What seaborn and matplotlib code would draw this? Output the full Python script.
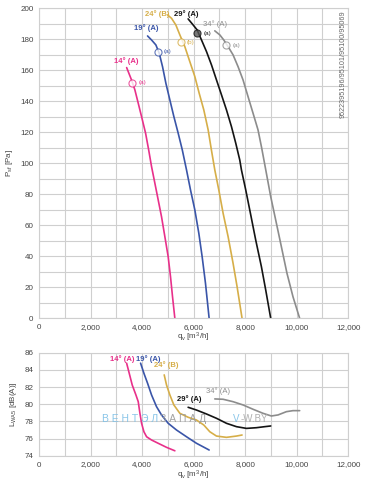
import pandas as pd
import matplotlib.pyplot as plt
import seaborn as sns
from matplotlib.ticker import MultipleLocator, FuncFormatter

# Curves: blade angle settings
labels = ['14° (A)', '19° (A)', '24° (B)', '29° (A)', '34° (A)']
colors = ['#e8308a', '#3a55a8', '#d6ae48', '#141414', '#8c8c8c']

# Pressure curves (q_v in m3/h, P_sf in Pa)
p_q = [
    [3400, 3590, 3720, 3850, 3980, 4135, 4255, 4367, 4496, 4625, 4754, 4884, 5012, 5103, 5181, 5271],
    [4212, 4367, 4535, 4664, 4793, 4923, 5078, 5233, 5400, 5560, 5724, 5879, 6047, 6202, 6331, 6460, 6602],
    [4987, 5142, 5310, 5465, 5659, 5853, 6047, 6215, 6395, 6564, 6690, 6822, 6977, 7145, 7339, 7531, 7687, 7880],
    [5787, 5981, 6136, 6306, 6500, 6694, 6888, 7082, 7275, 7469, 7636, 7791, 7856, 8023, 8205, 8410, 8631, 8798, 8992],
    [6822, 7016, 7171, 7339, 7531, 7725, 7919, 8112, 8306, 8500, 8640, 8825, 8992, 9186, 9406, 9624, 9857, 10116],
]
p_val = [
    [161.7, 153.7, 147.3, 138.7, 130.0, 119.4, 108.6, 97.8, 87.1, 76.3, 65.5, 52.6, 39.7, 26.8, 13.9, 0],
    [182.1, 179.5, 176.3, 171.0, 162.3, 151.6, 140.8, 130.1, 119.4, 108.6, 95.7, 82.8, 69.9, 54.8, 39.7, 22.6, 0],
    [195.7, 193.5, 189.2, 182.8, 175.2, 165.5, 155.9, 145.2, 134.4, 121.5, 108.6, 95.7, 82.8, 67.7, 52.6, 35.5, 20.4, 0],
    [193.1, 189.2, 186.0, 179.5, 172.0, 163.4, 153.7, 144.1, 134.4, 123.6, 112.9, 102.1, 95.7, 82.8, 67.7, 50.5, 33.3, 18.3, 0],
    [185.4, 182.8, 179.5, 175.2, 169.9, 162.3, 153.7, 143.0, 132.3, 121.5, 110.0, 93.5, 78.5, 63.4, 46.2, 29.0, 13.9, 0],
]

# Sound power curves (q_v, L_WA5 in dB(A))
s_q = [
    [3399, 3500, 3616, 3760, 3850, 3915, 3980, 4070, 4174, 4367, 4625, 4948, 5271],
    [3941, 4070, 4212, 4367, 4560, 4754, 5013, 5336, 5723, 6111, 6602],
    [4858, 4948, 5078, 5233, 5465, 5788, 6111, 6395, 6628, 6887, 7275, 7663, 7880],
    [5787, 6111, 6500, 6888, 7275, 7663, 8050, 8437, 8760, 8992],
    [6822, 7145, 7531, 7919, 8306, 8694, 9018, 9276, 9600, 9857, 10116],
]
s_val = [
    [84.77, 83.6, 82.24, 81.08, 80.3, 78.95, 77.79, 76.81, 76.23, 75.85, 75.47, 75.0, 74.6],
    [84.77, 83.6, 82.44, 81.08, 79.72, 78.76, 77.79, 77.01, 76.23, 75.47, 74.69],
    [83.41, 82.24, 81.08, 79.92, 78.95, 78.49, 78.17, 77.59, 76.81, 76.31, 76.16, 76.31, 76.43],
    [79.65, 79.33, 78.87, 78.37, 77.79, 77.4, 77.2, 77.28, 77.4, 77.48],
    [80.62, 80.58, 80.3, 79.92, 79.42, 78.95, 78.64, 78.76, 79.14, 79.26, 79.26],
]

# Operating point markers (q_v, P_sf, tag)
mark_q = [3620, 4600, 5500, 6150, 7270]
mark_p = [152, 172, 178, 184, 176]
mark_tag = ['(a)', '(a)', '(b)', '(a)', '(a)']

# Curve label positions
p_lab_q = [3370, 4150, 4570, 5720, 6820]
p_lab_v = [166, 187, 196, 196, 190]
s_lab_q = [3240, 4220, 4950, 5840, 6930]
s_lab_v = [85.2, 85.2, 84.5, 80.6, 81.5]


def to_frame(qs, vs):
    rows = []
    for lab, q, v in zip(labels, qs, vs):
        for a, b in zip(q, v):
            rows.append({'curve': lab, 'q': a, 'val': b})
    return pd.DataFrame(rows)


dfp = to_frame(p_q, p_val)
dfs = to_frame(s_q, s_val)

sns.set_style('white')
plt.rcParams['font.family'] = ['Liberation Sans', 'DejaVu Sans']
plt.rcParams['mathtext.fontset'] = 'custom'
plt.rcParams['mathtext.rm'] = 'Liberation Sans'
plt.rcParams['mathtext.it'] = 'Liberation Sans'
pal = dict(zip(labels, colors))
grid_c = '#cfcfcf'
tick_c = '#444444'

fig = plt.figure(figsize=(3.72, 4.83), dpi=100)
ax1 = fig.add_axes([0.105, 0.341, 0.831, 0.642])
ax2 = fig.add_axes([0.105, 0.056, 0.831, 0.214])

for ax, df in ((ax1, dfp), (ax2, dfs)):
    sns.lineplot(data=df, x='q', y='val', hue='curve', palette=pal, sort=False,
                 estimator=None, legend=False, linewidth=1.2, ax=ax)

thousands = FuncFormatter(lambda v, p: f'{int(v):,}')
for ax in (ax1, ax2):
    ax.set_xlim(0, 12000)
    ax.xaxis.set_major_locator(MultipleLocator(2000))
    ax.xaxis.set_minor_locator(MultipleLocator(1000))
    ax.xaxis.set_major_formatter(thousands)
    ax.grid(True, which='both', color=grid_c, linewidth=0.8)
    ax.set_axisbelow(True)
    for s in ax.spines.values():
        s.set_color(grid_c)
        s.set_linewidth(0.8)
    ax.tick_params(which='both', length=0, labelsize=5.8, colors=tick_c, pad=4)
    ax.set_xlabel(r'q$_v$ [m$^3$/h]', fontsize=5.8, color=tick_c, labelpad=0)

ax1.set_ylim(0, 200)
ax1.yaxis.set_major_locator(MultipleLocator(20))
ax1.yaxis.set_minor_locator(MultipleLocator(10))
ax1.set_ylabel(r'P$_{sf}$ [Pa]', fontsize=5.8, color=tick_c, labelpad=4)

ax2.set_ylim(74, 86)
ax2.yaxis.set_major_locator(MultipleLocator(2))
ax2.set_ylabel(r'L$_{WA5}$ [dB(A)]', fontsize=5.8, color=tick_c, labelpad=4)

for ax, xs, ys in ((ax1, p_lab_q, p_lab_v), (ax2, s_lab_q, s_lab_v)):
    for lab, c, x, y in zip(labels, colors, xs, ys):
        ax.text(x, y, lab, color=c, fontsize=5.5, ha='center', va='center',
                fontweight='normal' if c == '#8c8c8c' else 'bold')

for x, y, t, c in zip(mark_q, mark_p, mark_tag, colors):
    face = '#555555' if c == '#141414' else 'white'
    ax1.scatter([x], [y], s=26, facecolor=face, edgecolor=c, linewidth=0.8,
                zorder=5, alpha=0.8)
    ax1.text(x + 230, y, t, color=c, fontsize=4.5, va='center', ha='left')

ax1.text(0.985, 0.82, '9522395196/95101/95100/95069', transform=ax1.transAxes,
         rotation=90, fontsize=5.2, color='#666666', ha='center', va='center')

# watermark
ax2.text(2430, 78.3, 'В Е Н Т Э Л', color='#7cbfe6', fontsize=7.5, va='center', alpha=0.9)
ax2.text(4690, 78.3, 'З А П А Д', color='#9a9a9a', fontsize=7.5, va='center', alpha=0.9)
ax2.text(7520, 78.3, 'V', color='#7cbfe6', fontsize=7, va='center', alpha=0.9)
ax2.text(7830, 78.3, '-W.BY', color='#a8a8a8', fontsize=7, va='center', alpha=0.9)

plt.savefig('out.png', dpi=100)
